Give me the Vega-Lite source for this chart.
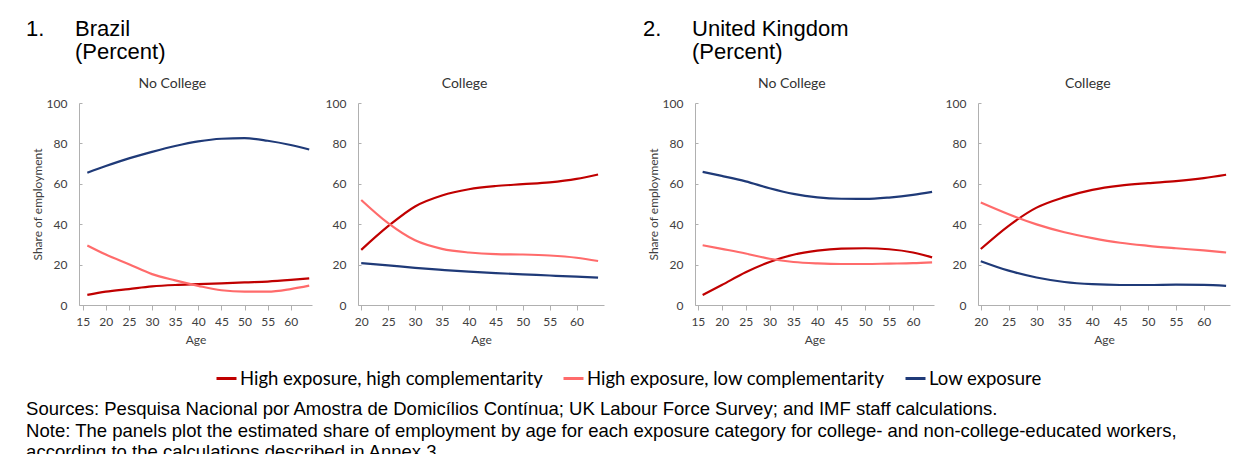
{
  "$schema": "https://vega.github.io/schema/vega-lite/v6.json",
  "background": "white",
  "padding": {"left": 26, "top": 18, "right": 5, "bottom": 0},
  "datasets": {
    "brazil_nc": [
      {"series": "High exposure, high complementarity", "age": 16, "share": 5.0},
      {"series": "High exposure, high complementarity", "age": 20, "share": 6.6},
      {"series": "High exposure, high complementarity", "age": 25, "share": 7.9},
      {"series": "High exposure, high complementarity", "age": 30, "share": 9.2},
      {"series": "High exposure, high complementarity", "age": 35, "share": 9.9},
      {"series": "High exposure, high complementarity", "age": 40, "share": 10.3},
      {"series": "High exposure, high complementarity", "age": 45, "share": 10.7},
      {"series": "High exposure, high complementarity", "age": 50, "share": 11.2},
      {"series": "High exposure, high complementarity", "age": 55, "share": 11.6},
      {"series": "High exposure, high complementarity", "age": 60, "share": 12.4},
      {"series": "High exposure, high complementarity", "age": 64, "share": 13.2},
      {"series": "High exposure, low complementarity", "age": 16, "share": 29.5},
      {"series": "High exposure, low complementarity", "age": 20, "share": 25.0},
      {"series": "High exposure, low complementarity", "age": 25, "share": 20.2},
      {"series": "High exposure, low complementarity", "age": 30, "share": 15.3},
      {"series": "High exposure, low complementarity", "age": 35, "share": 12.2},
      {"series": "High exposure, low complementarity", "age": 40, "share": 9.5},
      {"series": "High exposure, low complementarity", "age": 45, "share": 7.3},
      {"series": "High exposure, low complementarity", "age": 50, "share": 6.6},
      {"series": "High exposure, low complementarity", "age": 55, "share": 6.6},
      {"series": "High exposure, low complementarity", "age": 60, "share": 7.9},
      {"series": "High exposure, low complementarity", "age": 64, "share": 9.6},
      {"series": "Low exposure", "age": 16, "share": 65.5},
      {"series": "Low exposure", "age": 20, "share": 68.8},
      {"series": "Low exposure", "age": 25, "share": 72.6},
      {"series": "Low exposure", "age": 30, "share": 75.8},
      {"series": "Low exposure", "age": 35, "share": 78.7},
      {"series": "Low exposure", "age": 40, "share": 81.0},
      {"series": "Low exposure", "age": 45, "share": 82.3},
      {"series": "Low exposure", "age": 50, "share": 82.6},
      {"series": "Low exposure", "age": 55, "share": 81.3},
      {"series": "Low exposure", "age": 60, "share": 79.2},
      {"series": "Low exposure", "age": 64, "share": 77.0}
    ],
    "brazil_c": [
      {"series": "High exposure, high complementarity", "age": 20, "share": 27.3},
      {"series": "High exposure, high complementarity", "age": 25, "share": 39.0},
      {"series": "High exposure, high complementarity", "age": 30, "share": 48.8},
      {"series": "High exposure, high complementarity", "age": 35, "share": 54.2},
      {"series": "High exposure, high complementarity", "age": 40, "share": 57.3},
      {"series": "High exposure, high complementarity", "age": 45, "share": 58.9},
      {"series": "High exposure, high complementarity", "age": 50, "share": 59.8},
      {"series": "High exposure, high complementarity", "age": 55, "share": 60.7},
      {"series": "High exposure, high complementarity", "age": 60, "share": 62.4},
      {"series": "High exposure, high complementarity", "age": 64, "share": 64.6},
      {"series": "High exposure, low complementarity", "age": 20, "share": 52.0},
      {"series": "High exposure, low complementarity", "age": 25, "share": 40.5},
      {"series": "High exposure, low complementarity", "age": 30, "share": 32.0},
      {"series": "High exposure, low complementarity", "age": 35, "share": 27.8},
      {"series": "High exposure, low complementarity", "age": 40, "share": 26.0},
      {"series": "High exposure, low complementarity", "age": 45, "share": 25.2},
      {"series": "High exposure, low complementarity", "age": 50, "share": 25.0},
      {"series": "High exposure, low complementarity", "age": 55, "share": 24.5},
      {"series": "High exposure, low complementarity", "age": 60, "share": 23.4},
      {"series": "High exposure, low complementarity", "age": 64, "share": 21.8},
      {"series": "Low exposure", "age": 20, "share": 20.7},
      {"series": "Low exposure", "age": 25, "share": 19.6},
      {"series": "Low exposure", "age": 30, "share": 18.4},
      {"series": "Low exposure", "age": 35, "share": 17.4},
      {"series": "Low exposure", "age": 40, "share": 16.5},
      {"series": "Low exposure", "age": 45, "share": 15.8},
      {"series": "Low exposure", "age": 50, "share": 15.2},
      {"series": "Low exposure", "age": 55, "share": 14.6},
      {"series": "Low exposure", "age": 60, "share": 14.0},
      {"series": "Low exposure", "age": 64, "share": 13.6}
    ],
    "uk_nc": [
      {"series": "High exposure, high complementarity", "age": 16, "share": 5.0},
      {"series": "High exposure, high complementarity", "age": 20, "share": 9.9},
      {"series": "High exposure, high complementarity", "age": 25, "share": 16.2},
      {"series": "High exposure, high complementarity", "age": 30, "share": 21.3},
      {"series": "High exposure, high complementarity", "age": 35, "share": 24.9},
      {"series": "High exposure, high complementarity", "age": 40, "share": 26.9},
      {"series": "High exposure, high complementarity", "age": 45, "share": 27.9},
      {"series": "High exposure, high complementarity", "age": 50, "share": 28.1},
      {"series": "High exposure, high complementarity", "age": 55, "share": 27.6},
      {"series": "High exposure, high complementarity", "age": 60, "share": 26.0},
      {"series": "High exposure, high complementarity", "age": 64, "share": 23.6},
      {"series": "High exposure, low complementarity", "age": 16, "share": 29.6},
      {"series": "High exposure, low complementarity", "age": 20, "share": 27.8},
      {"series": "High exposure, low complementarity", "age": 25, "share": 25.5},
      {"series": "High exposure, low complementarity", "age": 30, "share": 22.9},
      {"series": "High exposure, low complementarity", "age": 35, "share": 21.3},
      {"series": "High exposure, low complementarity", "age": 40, "share": 20.6},
      {"series": "High exposure, low complementarity", "age": 45, "share": 20.3},
      {"series": "High exposure, low complementarity", "age": 50, "share": 20.3},
      {"series": "High exposure, low complementarity", "age": 55, "share": 20.5},
      {"series": "High exposure, low complementarity", "age": 60, "share": 20.7},
      {"series": "High exposure, low complementarity", "age": 64, "share": 21.1},
      {"series": "Low exposure", "age": 16, "share": 65.9},
      {"series": "Low exposure", "age": 20, "share": 63.9},
      {"series": "Low exposure", "age": 25, "share": 61.2},
      {"series": "Low exposure", "age": 30, "share": 57.8},
      {"series": "Low exposure", "age": 35, "share": 55.0},
      {"series": "Low exposure", "age": 40, "share": 53.3},
      {"series": "Low exposure", "age": 45, "share": 52.6},
      {"series": "Low exposure", "age": 50, "share": 52.5},
      {"series": "Low exposure", "age": 55, "share": 53.2},
      {"series": "Low exposure", "age": 60, "share": 54.5},
      {"series": "Low exposure", "age": 64, "share": 56.0}
    ],
    "uk_c": [
      {"series": "High exposure, high complementarity", "age": 20, "share": 27.7},
      {"series": "High exposure, high complementarity", "age": 25, "share": 39.2},
      {"series": "High exposure, high complementarity", "age": 30, "share": 48.2},
      {"series": "High exposure, high complementarity", "age": 35, "share": 53.4},
      {"series": "High exposure, high complementarity", "age": 40, "share": 57.0},
      {"series": "High exposure, high complementarity", "age": 45, "share": 59.1},
      {"series": "High exposure, high complementarity", "age": 50, "share": 60.3},
      {"series": "High exposure, high complementarity", "age": 55, "share": 61.3},
      {"series": "High exposure, high complementarity", "age": 60, "share": 62.8},
      {"series": "High exposure, high complementarity", "age": 64, "share": 64.5},
      {"series": "High exposure, low complementarity", "age": 20, "share": 50.7},
      {"series": "High exposure, low complementarity", "age": 25, "share": 44.9},
      {"series": "High exposure, low complementarity", "age": 30, "share": 39.9},
      {"series": "High exposure, low complementarity", "age": 35, "share": 36.0},
      {"series": "High exposure, low complementarity", "age": 40, "share": 33.1},
      {"series": "High exposure, low complementarity", "age": 45, "share": 30.8},
      {"series": "High exposure, low complementarity", "age": 50, "share": 29.3},
      {"series": "High exposure, low complementarity", "age": 55, "share": 28.1},
      {"series": "High exposure, low complementarity", "age": 60, "share": 27.0},
      {"series": "High exposure, low complementarity", "age": 64, "share": 26.0},
      {"series": "Low exposure", "age": 20, "share": 21.7},
      {"series": "Low exposure", "age": 25, "share": 17.0},
      {"series": "Low exposure", "age": 30, "share": 13.6},
      {"series": "Low exposure", "age": 35, "share": 11.4},
      {"series": "Low exposure", "age": 40, "share": 10.3},
      {"series": "Low exposure", "age": 45, "share": 9.9},
      {"series": "Low exposure", "age": 50, "share": 9.9},
      {"series": "Low exposure", "age": 55, "share": 10.1},
      {"series": "Low exposure", "age": 60, "share": 10.0},
      {"series": "Low exposure", "age": 64, "share": 9.5}
    ]
  },
  "title": {
    "text": [
      "Sources: Pesquisa Nacional por Amostra de Domicílios Contínua; UK Labour Force Survey; and IMF staff calculations.",
      "Note: The panels plot the estimated share of employment by age for each exposure category for college- and non-college-educated workers,",
      "according to the calculations described in Annex 3."
    ],
    "orient": "bottom",
    "anchor": "start",
    "frame": "bounds",
    "font": "Liberation Sans",
    "fontSize": 18.5,
    "fontWeight": "normal",
    "color": "#000000",
    "lineHeight": 21.5,
    "offset": 12
  },
  "spacing": 39,
  "hconcat": [
    {
      "title": {
        "text": ["1.\u00a0\u00a0\u00a0\u00a0\u00a0Brazil", "\u200b\u00a0\u00a0\u00a0\u00a0\u00a0\u00a0\u00a0\u00a0(Percent)"],
        "anchor": "start",
        "frame": "bounds",
        "dx": -5,
        "font": "Liberation Sans",
        "fontSize": 22,
        "fontWeight": "normal",
        "color": "#000000",
        "lineHeight": 23,
        "offset": 13
      },
      "spacing": 11,
      "hconcat": [
        {
          "data": {"name": "brazil_nc"},
          "width": 233,
          "height": 202,
          "title": "No College",
          "mark": {"type": "line", "interpolate": "monotone", "strokeWidth": 2.2},
          "encoding": {
            "x": {"field": "age", "type": "quantitative", "scale": {"domain": [14.2, 64.6], "nice": false, "zero": false},
                  "axis": {"values": [15, 20, 25, 30, 35, 40, 45, 50, 55, 60], "title": "Age"}},
            "y": {"field": "share", "type": "quantitative", "scale": {"domain": [0, 100]},
                  "axis": {"values": [0, 20, 40, 60, 80, 100], "title": "Share of employment"}},
            "color": {"field": "series", "type": "nominal"}
          }
        },
        {
          "data": {"name": "brazil_c"},
          "width": 246,
          "height": 202,
          "title": "College",
          "mark": {"type": "line", "interpolate": "monotone", "strokeWidth": 2.2},
          "encoding": {
            "x": {"field": "age", "type": "quantitative", "scale": {"domain": [19.4, 65.1], "nice": false, "zero": false},
                  "axis": {"values": [20, 25, 30, 35, 40, 45, 50, 55, 60], "title": "Age"}},
            "y": {"field": "share", "type": "quantitative", "scale": {"domain": [0, 100]},
                  "axis": {"values": [0, 20, 40, 60, 80, 100], "title": null}},
            "color": {"field": "series", "type": "nominal"}
          }
        }
      ]
    },
    {
      "title": {
        "text": ["2.\u00a0\u00a0\u00a0\u00a0\u00a0United Kingdom", "\u200b\u00a0\u00a0\u00a0\u00a0\u00a0\u00a0\u00a0\u00a0(Percent)"],
        "anchor": "start",
        "frame": "bounds",
        "dx": -4,
        "font": "Liberation Sans",
        "fontSize": 22,
        "fontWeight": "normal",
        "color": "#000000",
        "lineHeight": 23,
        "offset": 13
      },
      "spacing": 8,
      "hconcat": [
        {
          "data": {"name": "uk_nc"},
          "width": 239,
          "height": 202,
          "title": "No College",
          "mark": {"type": "line", "interpolate": "monotone", "strokeWidth": 2.2},
          "encoding": {
            "x": {"field": "age", "type": "quantitative", "scale": {"domain": [14.4, 64.4], "nice": false, "zero": false},
                  "axis": {"values": [15, 20, 25, 30, 35, 40, 45, 50, 55, 60], "title": "Age"}},
            "y": {"field": "share", "type": "quantitative", "scale": {"domain": [0, 100]},
                  "axis": {"values": [0, 20, 40, 60, 80, 100], "title": "Share of employment"}},
            "color": {"field": "series", "type": "nominal"}
          }
        },
        {
          "data": {"name": "uk_c"},
          "width": 252,
          "height": 202,
          "title": "College",
          "mark": {"type": "line", "interpolate": "monotone", "strokeWidth": 2.2},
          "encoding": {
            "x": {"field": "age", "type": "quantitative", "scale": {"domain": [19.5, 64.7], "nice": false, "zero": false},
                  "axis": {"values": [20, 25, 30, 35, 40, 45, 50, 55, 60], "title": "Age"}},
            "y": {"field": "share", "type": "quantitative", "scale": {"domain": [0, 100]},
                  "axis": {"values": [0, 20, 40, 60, 80, 100], "title": null}},
            "color": {"field": "series", "type": "nominal"}
          }
        }
      ]
    }
  ],
  "resolve": {"scale": {"color": "shared"}},
  "config": {
    "font": "Lato",
    "view": {"stroke": null},
    "range": {"category": ["#C00000", "#FF6B6B", "#1F3A78"]},
    "axis": {
      "grid": false,
      "domainColor": "#B0B0B0",
      "tickColor": "#B0B0B0",
      "labelFont": "Lato",
      "labelFontSize": 12,
      "labelColor": "#404040",
      "titleFont": "Lato",
      "titleFontSize": 12,
      "titleFontWeight": "normal",
      "titleColor": "#404040"
    },
    "axisY": {"ticks": true, "tickSize": -3, "labelPadding": 15, "titlePadding": 2},
    "axisX": {"ticks": true, "tickSize": 5, "labelPadding": 6, "titlePadding": 7},
    "title": {
      "font": "Lato",
      "fontSize": 14,
      "fontWeight": "normal",
      "color": "#333333",
      "anchor": "middle",
      "frame": "bounds",
      "offset": 6
    },
    "legend": {
      "orient": "bottom",
      "direction": "horizontal",
      "title": null,
      "symbolType": "stroke",
      "symbolStrokeWidth": 3,
      "symbolSize": 400,
      "labelFont": "Lato",
      "labelFontSize": 18.5,
      "labelColor": "#000000",
      "labelLimit": 500,
      "labelOffset": 2,
      "offset": 22,
      "columnPadding": 14,
      "layout": {"bottom": {"anchor": "middle"}}
    }
  }
}
